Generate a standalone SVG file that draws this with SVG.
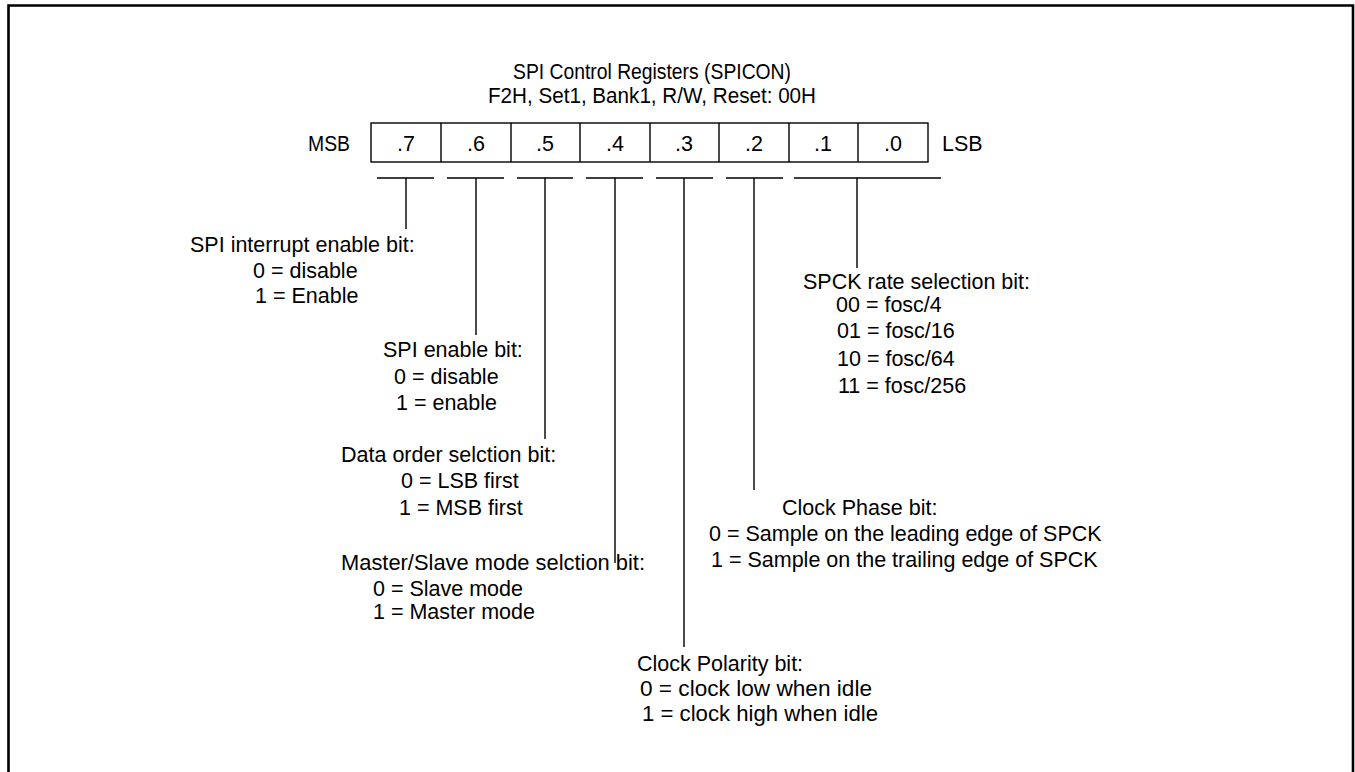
<svg xmlns="http://www.w3.org/2000/svg" width="1355" height="772" viewBox="0 0 1355 772">
<style>
text{font-family:"Liberation Sans",Arial,Helvetica,sans-serif;font-size:21.5px;fill:#000}
.t{font-size:21.5px;text-anchor:middle}
.c{text-anchor:middle}
.ln{stroke:#000;stroke-width:1.4;fill:none}
</style>
<rect x="0" y="0" width="1355" height="772" fill="#fff"/>
<path d="M8.5,772 V5.5 H1353 V772" fill="none" stroke="#000" stroke-width="2.6"/>
<g id="title">
<text class="t" x="652" y="79" textLength="278" lengthAdjust="spacingAndGlyphs">SPI Control Registers (SPICON)</text>
<text class="t" x="652" y="103" textLength="328" lengthAdjust="spacingAndGlyphs">F2H, Set1, Bank1, R/W, Reset: 00H</text>
</g>
<g id="register">
<text x="308" y="151" textLength="42" lengthAdjust="spacingAndGlyphs">MSB</text>
<text x="942" y="151">LSB</text>
<rect class="ln" x="371" y="123" width="557" height="39"/>
<path class="ln" d="M441,123V162 M511,123V162 M580,123V162 M650,123V162 M719,123V162 M789,123V162 M858,123V162"/>
<text class="c" x="406" y="151">.7</text>
<text class="c" x="476" y="151">.6</text>
<text class="c" x="545" y="151">.5</text>
<text class="c" x="615" y="151">.4</text>
<text class="c" x="684" y="151">.3</text>
<text class="c" x="754" y="151">.2</text>
<text class="c" x="823" y="151">.1</text>
<text class="c" x="893" y="151">.0</text>
</g>
<g id="connectors" class="ln">
<path d="M377,178H434 M406,178V229"/>
<path d="M447,178H504 M476,178V335"/>
<path d="M517,178H573 M545,178V439"/>
<path d="M586,178H643 M615,178V563"/>
<path d="M656,178H713 M684,178V647"/>
<path d="M726,178H783 M754,178V490"/>
<path d="M794,178H941 M857,178V268"/>
</g>
<g id="bit7">
<text x="190" y="252">SPI interrupt enable bit:</text>
<text x="253" y="278">0 = disable</text>
<text x="255" y="303">1 = Enable</text>
</g>
<g id="bit6">
<text x="383" y="357">SPI enable bit:</text>
<text x="394" y="384">0 = disable</text>
<text x="396" y="410">1 = enable</text>
</g>
<g id="bit5">
<text x="341" y="462">Data order selction bit:</text>
<text x="401" y="488">0 = LSB first</text>
<text x="399" y="515">1 = MSB first</text>
</g>
<g id="bit4">
<text x="341" y="570" textLength="304" lengthAdjust="spacingAndGlyphs">Master/Slave mode selction bit:</text>
<text x="373" y="596">0 = Slave mode</text>
<text x="373" y="619">1 = Master mode</text>
</g>
<g id="bit3">
<text x="637" y="671">Clock Polarity bit:</text>
<text x="640" y="696" textLength="232" lengthAdjust="spacingAndGlyphs">0 = clock low when idle</text>
<text x="642" y="721" textLength="236" lengthAdjust="spacingAndGlyphs">1 = clock high when idle</text>
</g>
<g id="bit2">
<text x="782" y="515">Clock Phase bit:</text>
<text x="709" y="541">0 = Sample on the leading edge of SPCK</text>
<text x="711" y="567">1 = Sample on the trailing edge of SPCK</text>
</g>
<g id="bit1_0">
<text x="803" y="289">SPCK rate selection bit:</text>
<text x="836" y="312">00 = fosc/4</text>
<text x="837" y="338">01 = fosc/16</text>
<text x="837" y="366">10 = fosc/64</text>
<text x="838" y="393">11 = fosc/256</text>
</g>
</svg>
